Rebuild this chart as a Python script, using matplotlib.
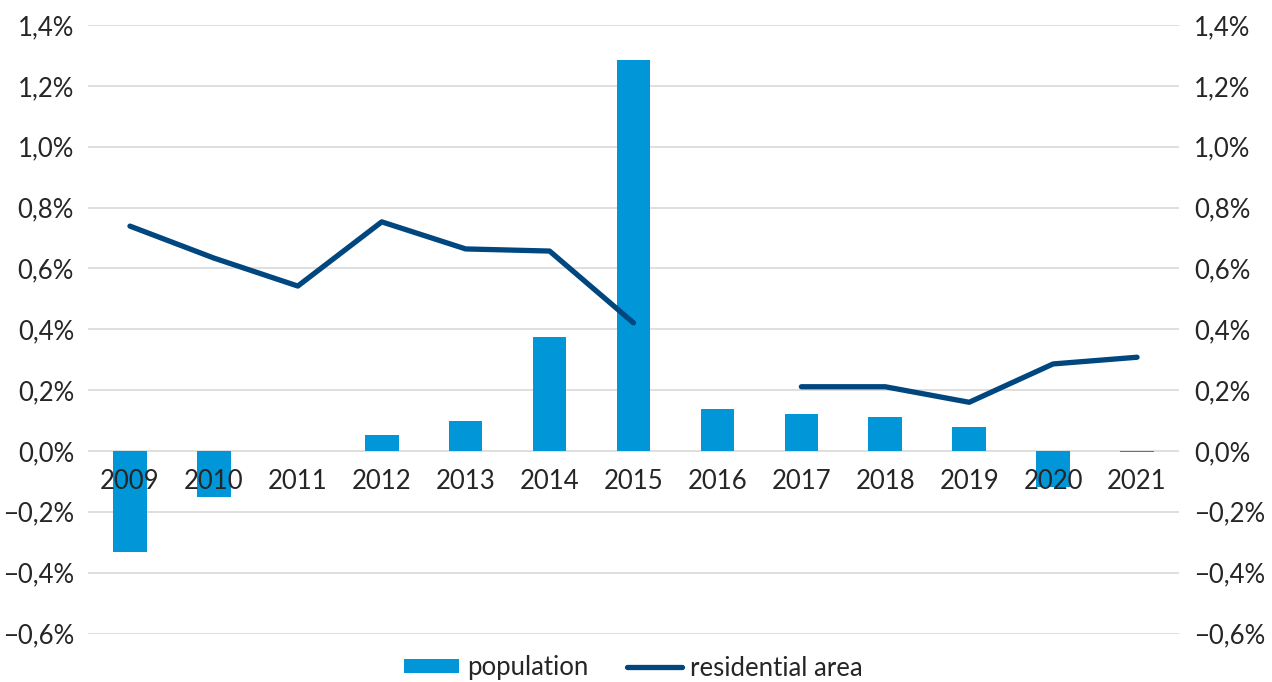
import numpy as np
import matplotlib
matplotlib.use("Agg")
import matplotlib.pyplot as plt
from matplotlib.ticker import FuncFormatter

plt.rcParams['font.family'] = ['Lato', 'DejaVu Sans']

# --- data (values in %) ---
years = ['2009', '2010', '2011', '2012', '2013', '2014', '2015',
         '2016', '2017', '2018', '2019', '2020', '2021']
population = [-0.332, -0.151, 0.0, 0.053, 0.099, 0.375, 1.286,
              0.138, 0.122, 0.113, 0.080, -0.117, -0.002]
residential_area = [0.739, 0.634, 0.542, 0.753, 0.664, 0.657, 0.421,
                    np.nan, 0.211, 0.211, 0.160, 0.286, 0.308]

bar_color = '#0096D8'
line_color = '#00467F'
grid_color = '#D9D9D9'
text_color = '#262626'
fs = 18.5

x = np.arange(len(years))

fig = plt.figure(figsize=(12.72, 6.82), dpi=100)
ax = fig.add_axes([88 / 1272, 1 - 633.5 / 682, (1179 - 88) / 1272, (633.5 - 25) / 682])

bars = ax.bar(x, population, width=0.4, color=bar_color, label='population', zorder=2)
line, = ax.plot(x, residential_area, color=line_color, linewidth=3.8,
                solid_capstyle='round', label='residential area', zorder=3)

ax.set_xlim(-0.5, len(years) - 0.5)
ax.set_ylim(-0.6, 1.4)
yt = np.arange(-0.6, 1.41, 0.2)
ax.set_yticks(yt)

def pct(v, pos):
    s = f"{v:.1f}".replace('.', ',').replace('-', '\u2212')
    if s == '\u22120,0':
        s = '0,0'
    return s + '%'

ax.yaxis.set_major_formatter(FuncFormatter(pct))
ax.grid(axis='y', color=grid_color, linewidth=1.2, zorder=0)
ax.set_axisbelow(True)
for sp in ax.spines.values():
    sp.set_visible(False)
ax.tick_params(axis='y', length=0, pad=10, labelsize=fs, labelcolor=text_color)

# x labels sit just under the zero line
ax.set_xticks([])
for i, yr in enumerate(years):
    ax.text(i, -0.1, yr, ha='center', va='center', fontsize=fs, color=text_color, zorder=4)

# right axis with the same scale
ax2 = ax.twinx()
ax2.set_ylim(ax.get_ylim())
ax2.set_yticks(yt)
ax2.yaxis.set_major_formatter(FuncFormatter(pct))
for sp in ax2.spines.values():
    sp.set_visible(False)
ax2.tick_params(axis='y', length=0, pad=11, labelsize=fs, labelcolor=text_color)

leg = fig.legend([bars, line], ['population', 'residential area'], loc='center',
                 bbox_to_anchor=(633 / 1272, 1 - 668 / 682),
                 ncol=2, frameon=False, fontsize=fs, handlelength=2.15,
                 handleheight=0.45, columnspacing=1.5, handletextpad=0.3)
for t in leg.get_texts():
    t.set_color(text_color)

fig.savefig('out.png', dpi=100)
